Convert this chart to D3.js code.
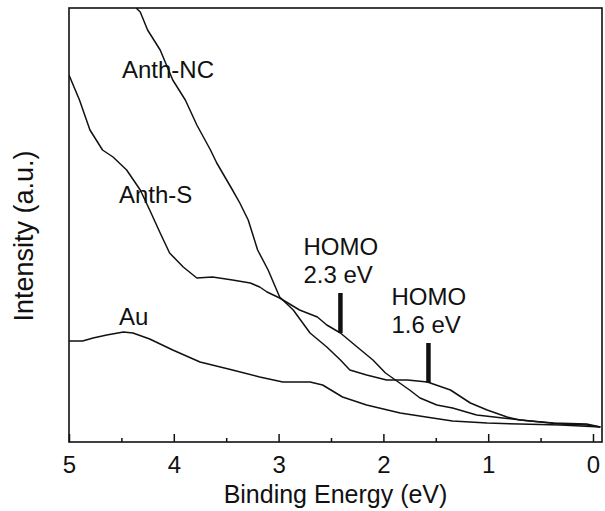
<!DOCTYPE html>
<html lang="en">
<head>
    <meta charset="UTF-8">
    <title>UPS spectra</title>
    <style>
        body { margin: 0; background: #fff; }
        text { font-family: "Liberation Sans", Arial, sans-serif; fill: #111; }
        .curve { fill: none; stroke: #111; stroke-width: 1.5; stroke-linejoin: round; }
    </style>
    <script src="https://d3js.org/d3.v7.min.js"></script>
</head>
<body>
    <svg width="605" height="511"></svg>
    <script>
        // binding energy (eV) and intensity (a.u.)
        const nc = [
            [4.36, 434], [4.32, 430], [4.25, 412], [4.13, 392], [4.01, 362], [3.89, 342],
            [3.78, 317], [3.65, 292], [3.59, 279], [3.44, 252], [3.37, 239], [3.29, 222],
            [3.20, 192], [3.10, 172], [2.99, 145], [2.86, 132], [2.70, 109], [2.54, 95],
            [2.41, 82], [2.32, 72], [2.16, 67], [1.97, 62], [1.77, 62], [1.58, 60],
            [1.36, 52], [1.17, 39], [1.01, 32], [0.82, 25], [0.70, 22], [0.38, 19],
            [0.06, 18], [-0.07, 15]
        ];
        const thiol = [
            [5.00, 367], [4.90, 342], [4.80, 312], [4.68, 292], [4.58, 285], [4.45, 272],
            [4.32, 252], [4.23, 232], [4.13, 209], [4.04, 189], [3.91, 175], [3.78, 164],
            [3.63, 165], [3.44, 162], [3.27, 159], [3.18, 155], [3.11, 150], [2.99, 144],
            [2.80, 132], [2.63, 125], [2.54, 117], [2.41, 109], [2.25, 95], [2.10, 82],
            [1.98, 69], [1.75, 52], [1.65, 44], [1.49, 37], [1.34, 34], [1.11, 27],
            [0.86, 24], [0.60, 21], [0.31, 18], [0.06, 17], [-0.07, 15]
        ];
        const au = [
            [5.00, 101], [4.87, 101], [4.77, 104], [4.64, 107], [4.48, 110], [4.39, 109],
            [4.23, 103], [4.01, 92], [3.75, 80], [3.44, 72], [3.18, 65], [2.96, 60],
            [2.70, 60], [2.58, 57], [2.39, 45], [2.16, 37], [1.84, 29], [1.53, 24],
            [1.34, 21], [1.01, 19], [0.70, 18], [0.31, 17], [-0.07, 15]
        ];
        const curveNames = ["Anth-NC", "Anth-S", "Au"];
        const xTicks = [0, 1, 2, 3, 4, 5];
        const xMinorTicks = [0.5, 1.5, 2.5, 3.5, 4.5];
        // HOMO markers: energy, bottom and top of the bar, label
        const homoE = [2.41, 1.57];
        const homoBottom = [109, 59];
        const homoTop = [149, 99];
        const homoLabels = ["2.3 eV", "1.6 eV"];

        const svg = d3.select("svg");
        const m = { left: 69, right: 602, top: 8, bottom: 442 };

        const x = d3.scaleLinear().domain([5, -0.086]).range([m.left, m.right]);
        const y = d3.scaleLinear().domain([0, 434]).range([m.bottom, m.top]);

        svg.append("clipPath").attr("id", "plot")
            .append("rect").attr("x", m.left).attr("y", m.top)
            .attr("width", m.right - m.left).attr("height", m.bottom - m.top);

        const line = d3.line().x(d => x(d[0])).y(d => y(d[1]));

        svg.append("g").attr("clip-path", "url(#plot)")
            .selectAll("path")
            .data([nc, thiol, au])
            .enter()
            .append("path")
            .attr("class", "curve")
            .attr("d", line);

        // axes: ticks point inward
        const xAxis = svg.append("g")
            .attr("transform", `translate(0,${m.bottom})`)
            .call(d3.axisBottom(x).tickValues(xTicks).tickSize(-8).tickPadding(14).tickFormat(d3.format("d")));
        xAxis.select(".domain").remove();
        xAxis.selectAll("line").attr("stroke", "#111").attr("stroke-width", 1.5);
        xAxis.selectAll("text").attr("font-size", 24).style("font-family", "'Liberation Sans', Arial, sans-serif").attr("fill", "#111");

        svg.append("g")
            .attr("transform", `translate(0,${m.bottom})`)
            .call(d3.axisBottom(x).tickValues(xMinorTicks).tickSize(-4).tickFormat(""))
            .call(g => g.select(".domain").remove())
            .selectAll("line").attr("stroke", "#111").attr("stroke-width", 1.5);

        svg.append("rect")
            .attr("x", m.left).attr("y", m.top)
            .attr("width", m.right - m.left).attr("height", m.bottom - m.top)
            .attr("fill", "none").attr("stroke", "#111").attr("stroke-width", 1.6);

        // curve labels
        const labelPos = [[122, 78], [119, 203], [119, 325]];
        svg.selectAll(".clabel")
            .data(curveNames)
            .enter()
            .append("text")
            .attr("class", "clabel")
            .attr("x", (d, i) => labelPos[i][0])
            .attr("y", (d, i) => labelPos[i][1])
            .attr("font-size", 24)
            .text(d => d);

        // HOMO markers
        homoE.forEach((e, i) => {
            svg.append("line")
                .attr("x1", x(e)).attr("x2", x(e))
                .attr("y1", y(homoTop[i])).attr("y2", y(homoBottom[i]))
                .attr("stroke", "#111").attr("stroke-width", 4.5);
            const t = svg.append("text")
                .attr("x", x(e) - 37)
                .attr("y", y(homoTop[i]) - 10)
                .attr("font-size", 24);
            t.append("tspan").attr("x", x(e) - 37).attr("dy", -28).text("HOMO");
            t.append("tspan").attr("x", x(e) - 37).attr("dy", 28).text(homoLabels[i]);
        });

        svg.append("text")
            .attr("x", (m.left + m.right) / 2)
            .attr("y", 503)
            .attr("text-anchor", "middle")
            .attr("font-size", 25)
            .text("Binding Energy (eV)");

        svg.append("text")
            .attr("transform", "translate(33,236) rotate(-90)")
            .attr("text-anchor", "middle")
            .attr("font-size", 27)
            .text("Intensity (a.u.)");
    </script>
</body>
</html>
